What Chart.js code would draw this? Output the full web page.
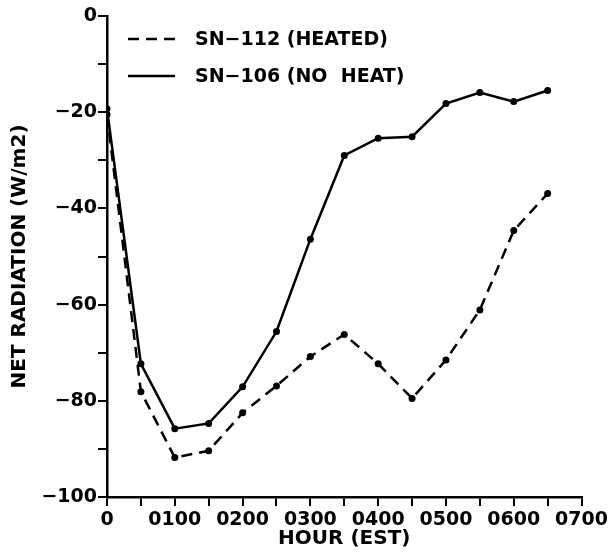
<!DOCTYPE html>
<html>
<head>
<meta charset="utf-8">
<script src="https://cdn.jsdelivr.net/npm/chart.js@4.4.1/dist/chart.umd.min.js"></script>
<style>
    html, body { margin: 0; padding: 0; background: #fff; }
    canvas { display: block; }
</style>
</head>
<body>
<canvas id="grafico" width="611" height="557"></canvas>
<script>
// horas (em horas desde 0000 EST), um ponto a cada meia hora
const horas = [0, 0.5, 1, 1.5, 2, 2.5, 3, 3.5, 4, 4.5, 5, 5.5, 6, 6.5];
const sn112Aquecido = [-20.5, -78.1, -91.8, -90.4, -82.5, -76.9, -70.8, -66.2, -72.3, -79.5, -71.5, -61.1, -44.6, -36.9];
const sn106SemAquecer = [-19.3, -72.3, -85.8, -84.7, -77.1, -65.6, -46.4, -29.0, -25.4, -25.1, -18.2, -15.9, -17.8, -15.5];
const rotulosSeries = ['SN\u2212112 (HEATED)', 'SN\u2212106 (NO  HEAT)'];
const rotulosHora = ['0', '0100', '0200', '0300', '0400', '0500', '0600', '0700'];

const fonte = "'DejaVu Sans', sans-serif";

function pontos(valores) {
    return horas.map((h, i) => ({ x: h, y: valores[i] }));
}

// legenda desenhada dentro da area do grafico, no canto superior esquerdo
const legendaInterna = {
    id: 'legendaInterna',
    afterDraw(chart) {
        const ctx = chart.ctx;
        const linhas = [39, 76];
        ctx.save();
        chart.data.datasets.forEach((ds, i) => {
            const y = linhas[i];
            ctx.strokeStyle = '#000';
            ctx.lineWidth = 2.5;
            ctx.setLineDash(ds.borderDash || []);
            ctx.beginPath();
            ctx.moveTo(128, y);
            ctx.lineTo(175, y);
            ctx.stroke();
            ctx.setLineDash([]);
            ctx.fillStyle = '#000';
            ctx.font = 'bold 19px ' + fonte;
            ctx.textBaseline = 'middle';
            ctx.fillText(ds.label, 195, y + 1);
        });
        ctx.restore();
    }
};

new Chart(document.getElementById('grafico'), {
    type: 'line',
    data: {
        datasets: [
            {
                label: rotulosSeries[0],
                data: pontos(sn112Aquecido),
                borderColor: '#000',
                backgroundColor: '#000',
                borderWidth: 2.5,
                borderDash: [11, 7],
                pointRadius: 3.5,
                pointBackgroundColor: '#000',
                pointBorderWidth: 0,
                tension: 0
            },
            {
                label: rotulosSeries[1],
                data: pontos(sn106SemAquecer),
                borderColor: '#000',
                backgroundColor: '#000',
                borderWidth: 2.5,
                pointRadius: 3.5,
                pointBackgroundColor: '#000',
                pointBorderWidth: 0,
                tension: 0
            }
        ]
    },
    options: {
        responsive: false,
        animation: false,
        layout: { padding: { top: 16, right: 28, left: 0, bottom: 0 } },
        plugins: {
            legend: { display: false },
            tooltip: { enabled: false }
        },
        scales: {
            x: {
                type: 'linear',
                min: 0,
                max: 7,
                afterFit: (s) => { s.height = 60; },
                border: { color: '#000', width: 2.5 },
                grid: { drawOnChartArea: false, tickLength: 9, tickColor: '#000', lineWidth: 2 },
                ticks: {
                    stepSize: 0.5,
                    autoSkip: false,
                    maxRotation: 0,
                    padding: 3,
                    color: '#000',
                    font: { family: fonte, size: 19, weight: 'bold' },
                    callback: (v) => Number.isInteger(v) ? rotulosHora[v] : ''
                },
                title: {
                    display: true,
                    text: 'HOUR (EST)',
                    color: '#000',
                    font: { family: fonte, size: 20, weight: 'bold' },
                    padding: { top: 0, bottom: 6 }
                }
            },
            y: {
                min: -100,
                max: 0,
                afterFit: (s) => { s.width = 107; },
                border: { color: '#000', width: 2.5 },
                grid: { drawOnChartArea: false, tickLength: 9, tickColor: '#000', lineWidth: 2 },
                ticks: {
                    stepSize: 10,
                    padding: 1,
                    color: '#000',
                    font: { family: fonte, size: 19, weight: 'bold' },
                    callback: (v) => v % 20 === 0 ? (v < 0 ? '\u2212' + Math.abs(v) : String(v)) : ''
                },
                title: {
                    display: true,
                    text: 'NET RADIATION (W/m2)',
                    color: '#000',
                    font: { family: fonte, size: 20, weight: 'bold' },
                    padding: { top: 8, bottom: 0 }
                }
            }
        }
    },
    plugins: [legendaInterna]
});
</script>
</body>
</html>
